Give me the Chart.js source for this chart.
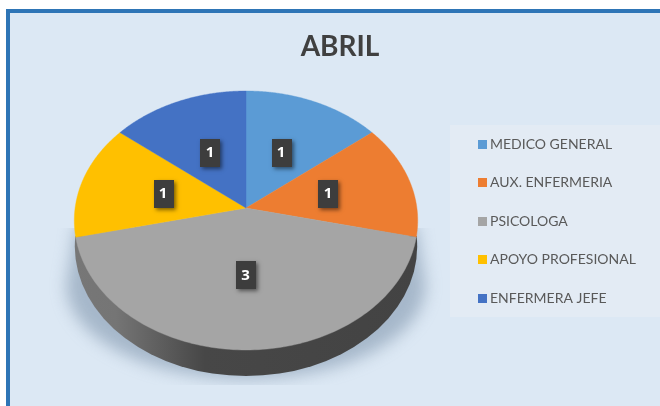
<!DOCTYPE html>
<html><head><meta charset="utf-8">
<script src="https://cdn.jsdelivr.net/npm/chart.js@4"></script>
<style>
html,body{margin:0;padding:0;background:#fff;width:660px;height:406px;overflow:hidden}
#frame{position:absolute;left:6px;top:9px;width:660px;height:410px;background:#dce8f4;border:4px solid #2e75b6;box-sizing:border-box}
canvas{position:absolute;left:0;top:0}
</style></head><body>
<div id="frame"></div>
<canvas id="c" width="660" height="406"></canvas>
<script>
const titleText = 'ABRIL';
const categories = ['MEDICO GENERAL','AUX. ENFERMERIA','PSICOLOGA','APOYO PROFESIONAL','ENFERMERA JEFE'];
const values = [1,1,3,1,1];
const colors = ['#5b9bd5','#ed7d31','#a5a5a5','#ffc000','#4472c4'];

// Perspective projection of the flat pie: a circle seen from the front edge
const persp = -0.0965, xScale = 170.9/172, yScale = 128.3/172, depth = 26, labelFraction = 0.5;
const FONT = 'Lato, "Open Sans", sans-serif';

function project(a, angle, frac){
  const u = Math.cos(angle)*frac, v = Math.sin(angle)*frac, w = 1+persp*v;
  return [a.x + a.outerRadius*xScale*u/w, a.y + a.outerRadius*yScale*v/w];
}

const perspectivePie = {
  id:'perspectivePie',
  beforeDatasetsDraw(chart){
    const ctx = chart.ctx, a = chart.getDatasetMeta(0).data[0];
    const [,top] = project(a,-Math.PI/2,1), [,bot] = project(a,Math.PI/2,1);
    const ecy = (top+bot)/2, ery = (bot-top)/2, erx = a.outerRadius*xScale/Math.sqrt(1-persp*persp);
    // soft ground shadow
    ctx.save();
    ctx.beginPath(); ctx.rect(0,228,660,157); ctx.clip();
    ctx.filter = 'blur(8px)';
    ctx.fillStyle = 'rgba(100,125,150,0.45)';
    ctx.beginPath();
    ctx.moveTo(a.x-erx+2,225);
    ctx.lineTo(a.x-erx-8,285);
    ctx.ellipse(a.x,285,erx+8,94,0,Math.PI,0,true);
    ctx.lineTo(a.x+erx-2,225);
    ctx.closePath();
    ctx.fill();
    ctx.restore();
    // side wall
    ctx.save();
    ctx.beginPath(); ctx.rect(0,236,660,170); ctx.clip();
    const g = ctx.createLinearGradient(a.x-erx,0,a.x+erx,0);
    g.addColorStop(0,'#777777'); g.addColorStop(0.12,'#757575');
    g.addColorStop(0.38,'#474747'); g.addColorStop(1,'#434343');
    ctx.fillStyle = g;
    ctx.beginPath();
    ctx.ellipse(a.x,ecy+depth,erx-0.5,ery,0,0,Math.PI*2);
    ctx.fill();
    ctx.restore();
  },
  beforeDatasetDraw(chart,args){
    const ctx = chart.ctx, meta = chart.getDatasetMeta(args.index);
    meta.data.forEach(a=>{
      ctx.save();
      ctx.fillStyle = ctx.strokeStyle = a.options.backgroundColor;
      ctx.lineWidth = 0.4;
      ctx.beginPath();
      ctx.moveTo(a.x,a.y);
      const n = 120;
      for(let i=0;i<=n;i++){
        const [px,py] = project(a,a.startAngle+(a.endAngle-a.startAngle)*i/n,1);
        ctx.lineTo(px,py);
      }
      ctx.closePath();
      ctx.fill(); ctx.stroke();
      ctx.restore();
    });
    return false;
  },
  afterDatasetsDraw(chart){
    const ctx = chart.ctx;
    chart.getDatasetMeta(0).data.forEach((a,i)=>{
      const [x,y] = project(a,(a.startAngle+a.endAngle)/2,labelFraction);
      ctx.save();
      ctx.shadowColor='rgba(0,0,0,0.5)'; ctx.shadowBlur=4; ctx.shadowOffsetX=2; ctx.shadowOffsetY=2;
      ctx.fillStyle='#3d3d3d';
      ctx.fillRect(Math.round(x-10),Math.round(y-14),20,28);
      ctx.restore();
      ctx.save();
      ctx.fillStyle='#fff'; ctx.font='bold 15px "Open Sans", sans-serif';
      ctx.textAlign='center'; ctx.textBaseline='middle';
      ctx.fillText(String(values[i]),x-0.5,y);
      ctx.restore();
    });
  },
  afterDraw(chart){
    const ctx = chart.ctx;
    ctx.save();
    ctx.fillStyle='#404040'; ctx.font='bold 28px '+FONT;
    ctx.textAlign='center'; ctx.textBaseline='alphabetic';
    ctx.fillText(titleText,340,56);
    ctx.restore();
    ctx.save();
    ctx.fillStyle='#e3ebf4'; ctx.fillRect(450,125,210,192);
    ctx.font='14px '+FONT; ctx.textBaseline='middle'; ctx.textAlign='left';
    categories.forEach((c,i)=>{
      const y = 144+i*38.5;
      ctx.fillStyle=colors[i]; ctx.fillRect(478,Math.round(y-4.5),9,9);
      ctx.fillStyle='#595959'; ctx.fillText(c,490,y);
    });
    ctx.restore();
  }
};

new Chart(document.getElementById('c'),{
  type:'pie',
  data:{labels:categories,datasets:[{data:values,backgroundColor:colors,borderWidth:0}]},
  options:{
    responsive:false,animation:false,
    layout:{padding:{left:74,right:242,top:36,bottom:26}},
    plugins:{legend:{display:false},title:{display:false},tooltip:{enabled:false}}
  },
  plugins:[perspectivePie]
});
</script>
</body></html>
